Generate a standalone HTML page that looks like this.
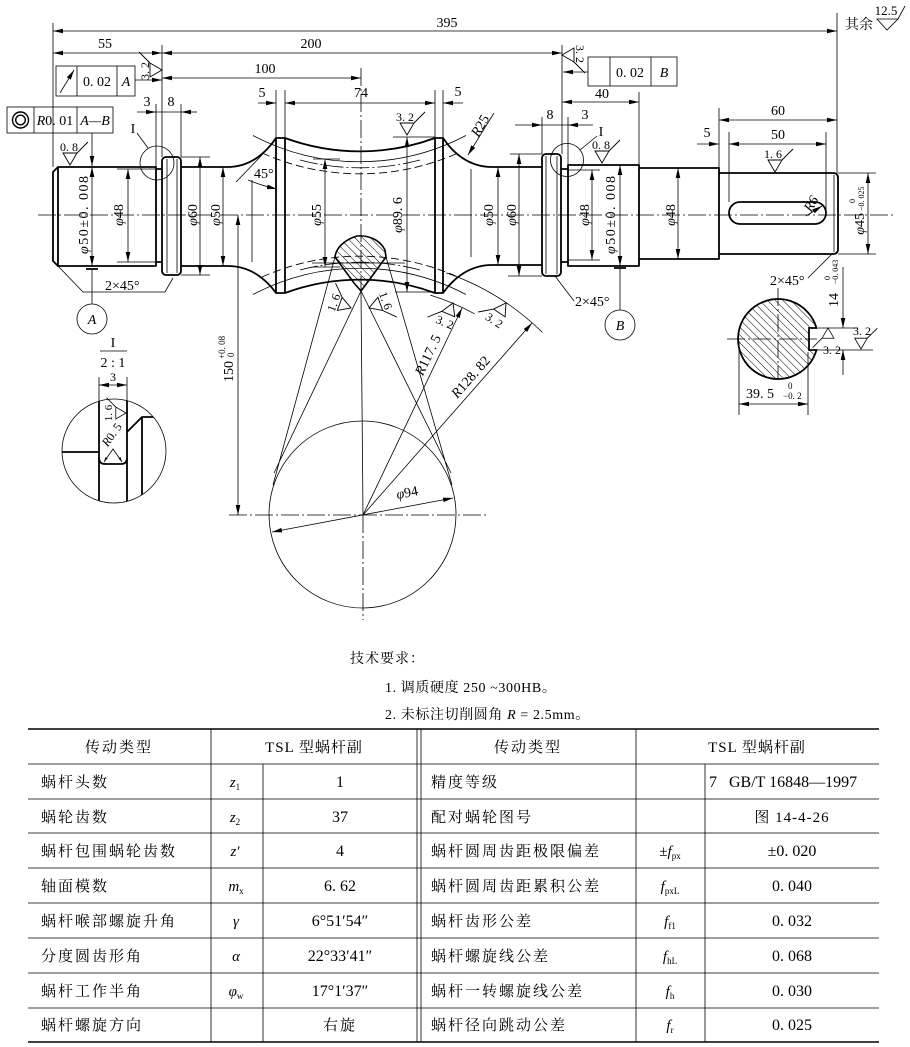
<!DOCTYPE html>
<html><head><meta charset="utf-8"><style>
html,body{margin:0;padding:0;background:#fff;}
svg{display:block;}
</style></head><body>
<svg width="910" height="1047" viewBox="0 0 910 1047" xmlns="http://www.w3.org/2000/svg" font-size="13" font-family="'Liberation Serif','Noto Serif CJK SC',serif">
<style>
.k{stroke:#000;stroke-width:1.8;fill:none;stroke-linejoin:round}
.t{stroke:#000;stroke-width:0.8;fill:none}
.cl{stroke:#000;stroke-width:0.8;fill:none;stroke-dasharray:18 3 2 3}
.ds{stroke:#000;stroke-width:0.9;fill:none;stroke-dasharray:8 4}
.m{marker-start:url(#a);marker-end:url(#a)}
.me{marker-end:url(#a)}
text{fill:#000}
.it{font-style:italic}
.cj{font-family:"Liberation Serif","Noto Serif CJK SC","Noto Sans CJK SC",serif;font-size:15px;letter-spacing:2px}
.hd{font-family:"Liberation Serif","Noto Serif CJK SC","Noto Sans CJK SC",serif;font-size:15px;letter-spacing:1px}
</style>
<defs>
<marker id="a" markerUnits="userSpaceOnUse" markerWidth="10" markerHeight="6" refX="10" refY="3" orient="auto-start-reverse"><path d="M0,0.7 L10,3 L0,5.3 Z" fill="#000"/></marker>
<pattern id="h" patternUnits="userSpaceOnUse" width="5.5" height="5.5" patternTransform="rotate(-45)"><line x1="0" y1="0" x2="0" y2="5.5" stroke="#000" stroke-width="1"/></pattern>
<g id="rs"><path d="M-7,-12 L7,-12 L0,0 Z M7,-12 L18,-23" stroke="#000" stroke-width="0.9" fill="none"/></g>
<g id="rf"><path d="M-7,12 L7,12 L0,0 Z M-7,12 L-18,23" stroke="#000" stroke-width="0.9" fill="none"/></g>
<clipPath id="dc"><circle cx="114" cy="451" r="52"/></clipPath>
</defs>
<rect width="910" height="1047" fill="#fff"/>

<!-- center lines -->
<path class="cl" d="M38,215 H895"/>
<path class="cl" d="M361,68 V292"/>
<path class="t" d="M361,292 L363,515"/>
<path class="cl" d="M363,515 V620"/>
<path class="cl" d="M229,515 H486"/>

<!-- main outline -->
<path class="k" d="M156,167 L58,167 L53,172 L53,261 L58,266 L156,266 Z"/>
<path class="k" d="M58,167 V266"/>
<path class="k" d="M156,169 H162 M156,262 H162"/>
<rect class="k" x="162" y="157" width="19" height="118" rx="4"/>
<path class="t" d="M167,159 V273 M177,159 V273"/>
<path class="k" d="M181,167 L228,167 C250,167 266,153 276,138 L285,138 A217,217 0 0 0 435,138 L443,138 C453,153 469,167 492,167 L542,167"/>
<path class="k" d="M181,266 L228,266 C250,266 266,279 276,293 L285,293 A217,217 0 0 1 435,293 L443,293 C453,279 469,265 492,265 L542,265"/>
<path class="k" d="M276,138 V293 M285,138 V293 M435,138 V293 M443,138 V293"/>
<!-- throat arcs -->
<path class="t" d="M253,135.5 A229,229 0 0 0 466,135.5"/>
<path class="ds" d="M262,153 A241,241 0 0 0 458,153"/>
<path class="cl" d="M300,160 A235,235 0 0 0 420,160"/>
<path class="t" d="M253,294.5 A229,229 0 0 1 466,294.5"/>
<path class="ds" d="M262,277 A241,241 0 0 1 458,277"/>
<path class="cl" d="M300,270 A235,235 0 0 1 420,270"/>
<path class="t" d="M252,180 V262 M471,169 V257"/>

<!-- right collar and journals -->
<rect class="k" x="542" y="154" width="19" height="122" rx="4"/>
<path class="t" d="M546,156 V274 M557,156 V274"/>
<path class="k" d="M561,169 H568 M561,262 H568"/>
<rect class="k" x="568" y="165" width="71" height="101"/>
<path class="k" d="M639,168 H719 V259 H639 M719,173 H833 Q838,173 838,178 V249 Q838,254 833,254 H719"/>
<path class="t" d="M834,175 V252"/>
<rect class="k" x="729" y="202" width="97" height="22" rx="11"/>

<!-- tooth section -->
<path d="M335,257 C336,248 344,240 357,236 C369,235 380,240 385,250 L386,257 L367,283 L361,291 L354,283 Z" fill="url(#h)" stroke="#000" stroke-width="1.6"/>
<path class="t" d="M335,257 L273,485 M361,291 L274,473 M361,291 L451,473 M386,257 L452,485"/>
<path class="t" d="M312,263 H405"/>

<!-- wheel circle -->
<circle class="t" cx="362.5" cy="514.5" r="93.5"/>
<path class="t m" d="M272,532 L453,498"/>
<text transform="translate(408,497) rotate(-10.6)" text-anchor="middle" font-size="14"><tspan class="it">φ</tspan>94</text>
<path class="t me" d="M363,515 L462,308"/>
<path class="t me" d="M363,515 L532,323"/>
<text transform="translate(432,357) rotate(-64.4)" text-anchor="middle" font-size="14"><tspan class="it">R</tspan>117. 5</text>
<text transform="translate(474,380) rotate(-48.6)" text-anchor="middle" font-size="14"><tspan class="it">R</tspan>128. 82</text>
<path class="t" d="M430.3,295.1 A230,230 0 0 1 474.5,313.8"/>
<path class="t" d="M446.3,272.9 A256,256 0 0 1 542.4,332.4"/>

<!-- 150 dim -->
<path class="t m" d="M238,215 V515"/>
<g transform="translate(233,382) rotate(-90)"><text x="0" y="0" font-size="14">150</text><text x="23" y="-8" font-size="9">+0. 08</text><text x="25" y="1" font-size="9">0</text></g>

<!-- top dimensions -->
<path class="t" d="M53,23 V167 M837,13 V173 M162,45 V157 M562,45 V154"/>
<path class="t m" d="M53,31 H837"/>
<text x="447" y="27" text-anchor="middle" font-size="14">395</text>
<path class="t m" d="M53,53 H162"/>
<text x="105" y="48" text-anchor="middle" font-size="14">55</text>
<path class="t m" d="M162,53 H562"/>
<text x="311" y="48" text-anchor="middle" font-size="14">200</text>
<path class="t m" d="M162,78 H361"/>
<text x="265" y="73" text-anchor="middle" font-size="14">100</text>
<path class="t" d="M276,90 V138 M285,90 V138 M435,90 V138 M443,90 V138"/>
<path class="t m" d="M285,103 H435"/>
<text x="361" y="97" text-anchor="middle" font-size="14">74</text>
<path class="t me" d="M258,103 H276"/>
<text x="262" y="97" text-anchor="middle" font-size="14">5</text>
<path class="t me" d="M463,103 H443"/>
<text x="458" y="96" text-anchor="middle" font-size="14">5</text>
<!-- 3 / 8 left -->
<path class="t" d="M156,104 V167 M181,104 V157"/>
<path class="t me" d="M137,112 H156"/>
<path class="t" d="M156,112 H181"/>
<path class="t me" d="M197,112 H181"/>
<text x="147" y="106" text-anchor="middle" font-size="14">3</text>
<text x="171" y="106" text-anchor="middle" font-size="14">8</text>
<!-- 8 / 3 right -->
<path class="t" d="M542,117 V154 M568,117 V165"/>
<path class="t me" d="M515,125 H542"/>
<path class="t" d="M542,125 H568"/>
<path class="t me" d="M593,125 H568"/>
<text x="550" y="119" text-anchor="middle" font-size="14">8</text>
<text x="585" y="119" text-anchor="middle" font-size="14">3</text>
<!-- 40 -->
<path class="t" d="M639,92 V165"/>
<path class="t m" d="M562,102 H639"/>
<text x="602" y="98" text-anchor="middle" font-size="14">40</text>
<!-- 60 / 50 / 5 -->
<path class="t" d="M719,108 V173 M729,132 V202 M826,132 V213"/>
<path class="t m" d="M719,120 H837"/>
<text x="778" y="115" text-anchor="middle" font-size="14">60</text>
<path class="t m" d="M729,144 H826"/>
<text x="778" y="139" text-anchor="middle" font-size="14">50</text>
<path class="t me" d="M697,144 H719"/>
<text x="707" y="137" text-anchor="middle" font-size="14">5</text>

<!-- tolerance frames -->
<rect class="t" x="56" y="66" width="79" height="30" stroke-width="1.1"/>
<path class="t" d="M77,66 V96 M117,66 V96"/>
<path class="t me" d="M60,93 L74,70"/>
<text x="97" y="86" text-anchor="middle" font-size="14">0. 02</text>
<text x="126" y="86" text-anchor="middle" class="it" font-size="14">A</text>
<path class="t me" d="M135,80 H162"/>
<rect class="t" x="7" y="107" width="106" height="26" stroke-width="1.1"/>
<path class="t" d="M34,107 V133 M77,107 V133"/>
<circle cx="20.5" cy="120" r="8" stroke="#000" stroke-width="1.4" fill="none"/>
<circle cx="20.5" cy="120" r="4.8" stroke="#000" stroke-width="1.4" fill="none"/>
<text x="55" y="125" text-anchor="middle" font-size="14"><tspan class="it">R</tspan>0. 01</text>
<text x="95" y="125" text-anchor="middle" class="it" font-size="14">A—B</text>
<path class="t me" d="M92,133 V166"/>
<rect class="t" x="588" y="57" width="89" height="29" stroke-width="1.1"/>
<path class="t" d="M610,57 V86 M651,57 V86"/>
<text x="630" y="77" text-anchor="middle" font-size="14">0. 02</text>
<text x="664" y="77" text-anchor="middle" class="it" font-size="14">B</text>
<path class="t me" d="M588,72 H563"/>

<!-- datum A / B -->
<path class="k" d="M86,269 H98 M614,268 H626"/>
<path class="t" d="M92,269 V304 M620,268 V310"/>
<circle class="t" cx="92" cy="319" r="15"/>
<circle class="t" cx="620" cy="325" r="15"/>
<text x="92" y="324" text-anchor="middle" class="it" font-size="14">A</text>
<text x="620" y="330" text-anchor="middle" class="it" font-size="14">B</text>

<!-- diameter dims -->
<path class="t m" d="M92,167 V266"/>
<text transform="translate(88,215) rotate(-90)" text-anchor="middle" font-size="14" textLength="78"><tspan class="it">φ</tspan>50±0. 008</text>
<path class="t" d="M117,169 H156 M117,262 H156"/>
<path class="t m" d="M128,169 V262"/>
<text transform="translate(123,215) rotate(-90)" text-anchor="middle" font-size="14"><tspan class="it">φ</tspan>48</text>
<path class="t" d="M181,157 H210 M181,275 H210"/>
<path class="t m" d="M200,157 V275"/>
<text transform="translate(197,215) rotate(-90)" text-anchor="middle" font-size="14"><tspan class="it">φ</tspan>60</text>
<path class="t m" d="M223,167 V266"/>
<text transform="translate(220,215) rotate(-90)" text-anchor="middle" font-size="14"><tspan class="it">φ</tspan>50</text>
<text x="254" y="178" font-size="14">45°</text>
<path class="t" d="M236,182 L262,155"/>
<path class="t me" d="M248,180 Q263,186 277,189"/>
<path class="t" d="M313,159 H340 M313,267 H340"/>
<path class="t m" d="M325,159 V267"/>
<text transform="translate(321,215) rotate(-90)" text-anchor="middle" font-size="14"><tspan class="it">φ</tspan>55</text>
<path class="t" d="M393,137 H435 M395,292 H435"/>
<path class="t m" d="M407,137 V292"/>
<text transform="translate(402,215) rotate(-90)" text-anchor="middle" font-size="14"><tspan class="it">φ</tspan>89. 6</text>
<path class="t m" d="M498,167 V265"/>
<text transform="translate(493,215) rotate(-90)" text-anchor="middle" font-size="14"><tspan class="it">φ</tspan>50</text>
<path class="t" d="M510,154 H542 M508,276 H542"/>
<path class="t m" d="M519,154 V276"/>
<text transform="translate(516,215) rotate(-90)" text-anchor="middle" font-size="14"><tspan class="it">φ</tspan>60</text>
<path class="t" d="M568,170 H600 M568,260 H600"/>
<path class="t m" d="M592,170 V260"/>
<text transform="translate(589,215) rotate(-90)" text-anchor="middle" font-size="14"><tspan class="it">φ</tspan>48</text>
<path class="t m" d="M620,165 V266"/>
<text transform="translate(615,215) rotate(-90)" text-anchor="middle" font-size="14" textLength="78"><tspan class="it">φ</tspan>50±0. 008</text>
<path class="t m" d="M678,168 V259"/>
<text transform="translate(675,215) rotate(-90)" text-anchor="middle" font-size="14"><tspan class="it">φ</tspan>48</text>
<path class="t" d="M838,173 H876 M838,254 H876"/>
<path class="t m" d="M868,173 V254"/>
<g transform="translate(864,215) rotate(-90)"><text x="2" y="0" text-anchor="end" font-size="14"><tspan class="it">φ</tspan>45</text><text x="12" y="-9" font-size="8">0</text><text x="4" y="0" font-size="8">−0. 025</text></g>

<!-- R25, R6 -->
<path class="t me" d="M494,113 L468,155"/>
<text transform="translate(484,128) rotate(-60)" text-anchor="middle" font-size="14"><tspan class="it">R</tspan>25</text>
<path class="t me" d="M806,216 L822,206"/>
<text transform="translate(815,206) rotate(-60)" text-anchor="middle" class="it" font-size="14">R6</text>

<!-- chamfer notes -->
<path class="t" d="M58,266 L83,292 H165 L173,278"/>
<text x="105" y="290" font-size="14">2×45°</text>
<path class="t" d="M555,276 L574,301"/>
<text x="575" y="306" font-size="14">2×45°</text>
<path class="t" d="M808,278 L833,253"/>
<text x="770" y="285" font-size="14">2×45°</text>

<!-- detail circles I -->
<circle class="t" cx="157" cy="163" r="17"/>
<path class="t" d="M137,133 L148,148"/>
<text x="133" y="133" text-anchor="middle" font-size="14">I</text>
<circle class="t" cx="567" cy="160" r="16.5"/>
<path class="t" d="M597,136 L580,150"/>
<text x="601" y="136" text-anchor="middle" font-size="14">I</text>

<!-- roughness symbols -->
<use href="#rs" transform="translate(70,165)"/>
<text x="69" y="151" text-anchor="middle" font-size="12">0. 8</text>
<use href="#rs" transform="translate(602,163)"/>
<text x="601" y="149" text-anchor="middle" font-size="12">0. 8</text>
<use href="#rs" transform="translate(407,135)"/>
<text x="405" y="121" text-anchor="middle" font-size="12">3. 2</text>
<use href="#rs" transform="translate(775,172)"/>
<text x="773" y="158" text-anchor="middle" font-size="12">1. 6</text>
<path class="t" d="M877,19 H898 L887,30 Z M898,19 L905,6"/>
<text x="886" y="15" text-anchor="middle" font-size="13">12.5</text>
<text x="845" y="29" font-family="'Noto Serif CJK SC','Noto Sans CJK SC',serif" font-size="14">其余</text>
<use href="#rs" transform="translate(162,70) rotate(-90)"/>
<text transform="translate(149,71) rotate(-90)" text-anchor="middle" font-size="12">3. 2</text>
<use href="#rs" transform="translate(562,55) rotate(90)"/>
<text transform="translate(576,54) rotate(90)" text-anchor="middle" font-size="12">3. 2</text>
<use href="#rs" transform="translate(351,308) rotate(-70)"/>
<text transform="translate(337.5,304) rotate(-70)" text-anchor="middle" font-size="12">1. 6</text>
<use href="#rs" transform="translate(369,308) rotate(70)"/>
<text transform="translate(382,302) rotate(70)" text-anchor="middle" font-size="12">1. 6</text>
<g transform="translate(453,303) rotate(23)"><use href="#rf"/><text x="0" y="25" text-anchor="middle" font-size="12">3. 2</text></g>
<g transform="translate(506,303) rotate(34)"><use href="#rf"/><text x="0" y="25" text-anchor="middle" font-size="12">3. 2</text></g>

<!-- section view -->
<path d="M816.5,328 A40,40 0 1 0 816.5,350 L809,350 L809,328 Z" fill="url(#h)" stroke="#000" stroke-width="1.8"/>
<path class="cl" d="M727,339 H817 M778,288 V380"/>
<path class="t" d="M818,328 H858 M812,350 H873"/>
<path class="t me" d="M843,267 V328"/>
<path class="t me" d="M843,375 V350"/>
<g transform="translate(838,300) rotate(-90)"><text x="0" y="0" text-anchor="middle" font-size="14">14</text><text x="22" y="-8" font-size="8" text-anchor="middle">0</text><text x="28" y="0" font-size="8" text-anchor="middle">−0. 043</text></g>
<use href="#rs" transform="translate(861,349) scale(0.9)"/>
<text x="862" y="335" text-anchor="middle" font-size="12">3. 2</text>
<use href="#rf" transform="translate(828,328) scale(0.85)"/>
<text x="832" y="354" text-anchor="middle" font-size="12">3. 2</text>
<path class="t" d="M739,341 V415 M808,352 V415"/>
<path class="t m" d="M739,404 H808"/>
<text x="746" y="398" font-size="14">39. 5</text>
<text x="788" y="389" font-size="9">0</text>
<text x="783" y="399" font-size="9">−0. 2</text>

<!-- detail view I 2:1 -->
<text x="113" y="347" text-anchor="middle" font-size="14">I</text>
<path class="t" d="M100,351 H127"/>
<text x="113" y="367" text-anchor="middle" font-size="14">2 : 1</text>
<path class="t" d="M99,377 V402 M127,377 V402"/>
<path class="t m" d="M99,385 H127"/>
<text x="113" y="381" text-anchor="middle" font-size="12">3</text>
<circle class="t" cx="114" cy="451" r="52"/>
<g clip-path="url(#dc)">
<path class="k" d="M62,452 H99 M99,399 V510 M127,399 V432 L142,417 H170 M127,432 V510 M142,417 V510"/>
<path class="k" d="M99,458 Q99,464 105,464 H121 Q127,464 127,458"/>
</g>
<path class="t" d="M104,462 L113,449 L122,462"/>
<path d="M104,462 l1.5,-5 l2,1.5 Z M122,462 l-1.5,-5 l-2,1.5 Z" fill="#000"/>
<text transform="translate(115,437) rotate(-55)" text-anchor="middle" font-size="12"><tspan class="it">R</tspan>0. 5</text>
<use href="#rs" transform="translate(126,413) rotate(-90) scale(0.85)"/>
<text transform="translate(112,413) rotate(-90)" text-anchor="middle" font-size="11">1. 6</text>

<!-- technical requirements -->
<text x="350" y="663" font-family="'Noto Serif CJK SC','Noto Sans CJK SC',serif" font-size="14" letter-spacing="1">技术要求：</text>
<text x="385" y="692" font-size="14" letter-spacing="0.6">1. 调质硬度 250 ~300HB。</text>
<text x="385" y="719" font-size="14" letter-spacing="0.6">2. 未标注切削圆角 <tspan class="it">R</tspan> = 2.5mm。</text>

<!-- table -->
<path stroke="#000" stroke-width="1.6" d="M28,729 H879 M28,1042 H879"/>
<path class="t" stroke-width="0.9" d="M28,764 H879 M28,799 H879 M28,833 H879 M28,868 H879 M28,903 H879 M28,938 H879 M28,973 H879 M28,1008 H879"/>
<path class="t" stroke-width="0.9" d="M211,729 V1042 M263,764 V1042 M417,729 V1042 M421,729 V1042 M636,729 V1042 M705,764 V1042"/>
<text x="119" y="752" text-anchor="middle" class="cj">传动类型</text>
<text x="314" y="752" text-anchor="middle" class="hd">TSL 型蜗杆副</text>
<text x="528" y="752" text-anchor="middle" class="cj">传动类型</text>
<text x="757" y="752" text-anchor="middle" class="hd">TSL 型蜗杆副</text>
<text x="41" y="787" class="cj">蜗杆头数</text>
<text x="41" y="822" class="cj">蜗轮齿数</text>
<text x="41" y="856" class="cj">蜗杆包围蜗轮齿数</text>
<text x="41" y="891" class="cj">轴面模数</text>
<text x="41" y="926" class="cj">蜗杆喉部螺旋升角</text>
<text x="41" y="961" class="cj">分度圆齿形角</text>
<text x="41" y="996" class="cj">蜗杆工作半角</text>
<text x="41" y="1030" class="cj">蜗杆螺旋方向</text>
<text x="431" y="787" class="cj">精度等级</text>
<text x="431" y="822" class="cj">配对蜗轮图号</text>
<text x="431" y="856" class="cj">蜗杆圆周齿距极限偏差</text>
<text x="431" y="891" class="cj">蜗杆圆周齿距累积公差</text>
<text x="431" y="926" class="cj">蜗杆齿形公差</text>
<text x="431" y="961" class="cj">蜗杆螺旋线公差</text>
<text x="431" y="996" class="cj">蜗杆一转螺旋线公差</text>
<text x="431" y="1030" class="cj">蜗杆径向跳动公差</text>

<text x="235" y="787" text-anchor="middle" font-size="15"><tspan class="it">z</tspan><tspan font-size="9" dy="3">1</tspan></text>
<text x="235" y="822" text-anchor="middle" font-size="15"><tspan class="it">z</tspan><tspan font-size="9" dy="3">2</tspan></text>
<text x="235" y="856" text-anchor="middle" font-size="15" class="it">z′</text>
<text x="236" y="891" text-anchor="middle" font-size="15"><tspan class="it">m</tspan><tspan font-size="9" dy="3">x</tspan></text>
<text x="236" y="926" text-anchor="middle" font-size="15" class="it">γ</text>
<text x="236" y="961" text-anchor="middle" font-size="15" class="it">α</text>
<text x="236" y="996" text-anchor="middle" font-size="15"><tspan class="it">φ</tspan><tspan font-size="9" dy="3">w</tspan></text>
<text x="340" y="787" text-anchor="middle" font-size="16">1</text>
<text x="340" y="822" text-anchor="middle" font-size="16">37</text>
<text x="340" y="856" text-anchor="middle" font-size="16">4</text>
<text x="340" y="891" text-anchor="middle" font-size="16">6. 62</text>
<text x="340" y="926" text-anchor="middle" font-size="16">6°51′54″</text>
<text x="340" y="961" text-anchor="middle" font-size="16">22°33′41″</text>
<text x="340" y="996" text-anchor="middle" font-size="16">17°1′37″</text>
<text x="340" y="1030" text-anchor="middle" class="cj">右旋</text>
<text x="670" y="856" text-anchor="middle" font-size="15">±<tspan class="it">f</tspan><tspan font-size="9" dy="3">px</tspan></text>
<text x="670" y="891" text-anchor="middle" font-size="15"><tspan class="it">f</tspan><tspan font-size="9" dy="3">pxL</tspan></text>
<text x="670" y="926" text-anchor="middle" font-size="15"><tspan class="it">f</tspan><tspan font-size="9" dy="3">f1</tspan></text>
<text x="670" y="961" text-anchor="middle" font-size="15"><tspan class="it">f</tspan><tspan font-size="9" dy="3">hL</tspan></text>
<text x="670" y="996" text-anchor="middle" font-size="15"><tspan class="it">f</tspan><tspan font-size="9" dy="3">h</tspan></text>
<text x="670" y="1030" text-anchor="middle" font-size="15"><tspan class="it">f</tspan><tspan font-size="9" dy="3">r</tspan></text>
<text x="709" y="787" font-size="16" xml:space="preserve">7   GB/T 16848—1997</text>
<text x="792" y="822" text-anchor="middle" class="hd">图 14-4-26</text>
<text x="792" y="856" text-anchor="middle" font-size="16">±0. 020</text>
<text x="792" y="891" text-anchor="middle" font-size="16">0. 040</text>
<text x="792" y="926" text-anchor="middle" font-size="16">0. 032</text>
<text x="792" y="961" text-anchor="middle" font-size="16">0. 068</text>
<text x="792" y="996" text-anchor="middle" font-size="16">0. 030</text>
<text x="792" y="1030" text-anchor="middle" font-size="16">0. 025</text>
</svg>
</body></html>
